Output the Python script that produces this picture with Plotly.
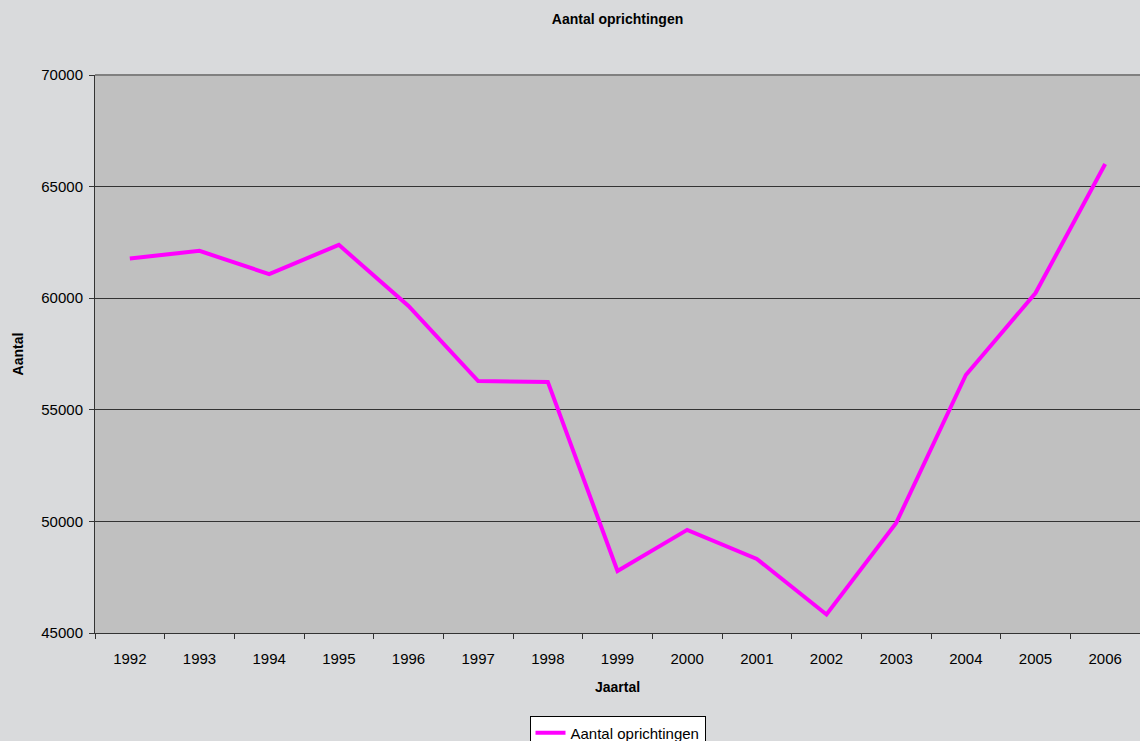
import plotly.graph_objects as go

years = ["1992", "1993", "1994", "1995", "1996", "1997", "1998", "1999",
         "2000", "2001", "2002", "2003", "2004", "2005", "2006"]
oprichtingen = [61780, 62120, 61080, 62390, 59650, 56290, 56250, 47780,
                49620, 48320, 45830, 49930, 56560, 60230, 66010]

fig = go.Figure()
fig.add_trace(go.Scatter(
    x=years, y=oprichtingen, mode="lines", name="Aantal oprichtingen",
    line=dict(color="#FF00FF", width=4),
))

font = "Liberation Sans, Arial, sans-serif"
fig.update_layout(
    width=1140, height=741,
    paper_bgcolor="#D9DADC", plot_bgcolor="#C0C0C0",
    margin=dict(l=95, r=0, t=75, b=108, autoexpand=False),
    font=dict(family=font, size=15, color="#000000"),
    title=dict(text="<b>Aantal oprichtingen</b>", x=0.5, xref="paper", xanchor="center",
               y=1 - 19 / 741, yanchor="middle", font=dict(size=14)),
    showlegend=True,
    legend=dict(orientation="h", x=0.5, xanchor="center", y=-0.148, yanchor="top",
                bgcolor="#FFFFFF", bordercolor="#000000", borderwidth=1,
                font=dict(size=15), itemwidth=30),
    xaxis=dict(type="category", range=[-0.5, 14.5], showgrid=False, showline=True,
               linecolor="#333333", linewidth=1, ticks="outside", tickson="boundaries",
               ticklen=5, tickcolor="#333333", zeroline=False, ticklabelstandoff=12,
               title=dict(text="<b>Jaartal</b>", font=dict(size=14), standoff=16)),
    yaxis=dict(range=[45000, 70000], dtick=5000, showgrid=True, gridcolor="#333333",
               gridwidth=1, showline=True, linecolor="#333333", linewidth=1,
               ticks="outside", ticklen=5, tickcolor="#333333", zeroline=False,
               tickformat="d", ticklabelstandoff=3,
               title=dict(text="<b>Aantal</b>", font=dict(size=14), standoff=14)),
    shapes=[dict(type="line", xref="paper", yref="paper", x0=0, x1=1, y0=1, y1=1,
                 line=dict(color="#808080", width=2), layer="above")],
)

fig.write_html("out.html", config={"displayModeBar": False},
               post_script="document.body.style.margin='0';")
